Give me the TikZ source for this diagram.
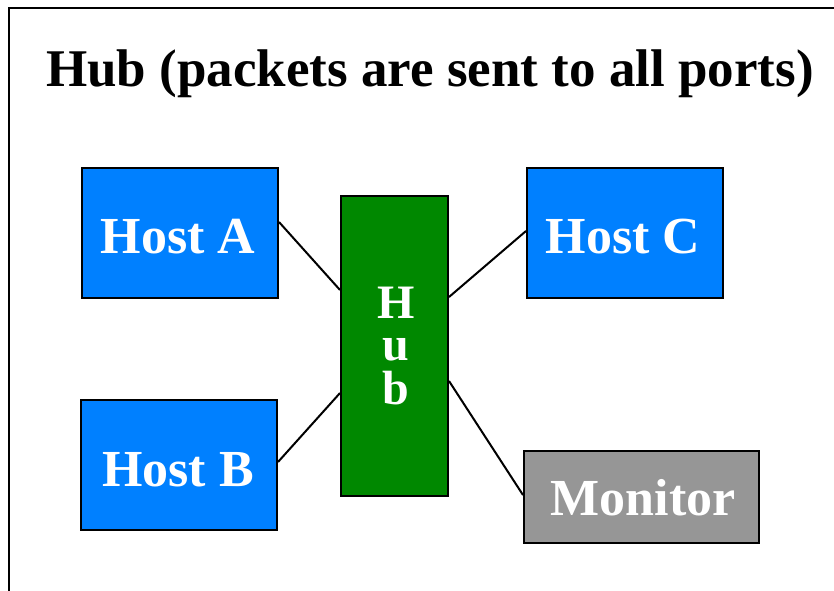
\documentclass[tikz,border=0pt]{standalone}
\usepackage{fontspec}
\setmainfont{Liberation Serif}
\definecolor{hostblue}{HTML}{0080FF}
\definecolor{hubgreen}{HTML}{008800}
\definecolor{mongray}{HTML}{969696}
\tikzset{
  box/.style={draw=black, line width=2pt, rectangle, inner sep=0pt},
  boxtext/.style={text=white, inner sep=0pt, font=\fontsize{52}{56}\selectfont\bfseries},
  hubletter/.style={text=white, inner sep=0pt, anchor=base, font=\fontsize{48}{43}\selectfont\bfseries},
  link/.style={draw=black, line width=2pt}
}
\begin{document}
\begin{tikzpicture}[x=1pt,y=-1pt]
\useasboundingbox (0,0) rectangle (834,590);
\clip (0,0) rectangle (834,590);
\draw[line width=2pt] (9,8) rectangle (860,620);
\node[font=\fontsize{53}{56}\selectfont\bfseries, anchor=base] (title) at (430,86) {Hub (packets are sent to all ports)};
\node[box, fill=hostblue, minimum width=196pt, minimum height=130pt] (A) at (180,233) {};
\node[box, fill=hostblue, minimum width=196pt, minimum height=130pt] (B) at (179,465) {};
\node[box, fill=hostblue, minimum width=196pt, minimum height=130pt] (C) at (625,233) {};
\node[box, fill=mongray, minimum width=235pt, minimum height=92pt] (M) at (641.5,497) {};
\node[box, fill=hubgreen, minimum width=107pt, minimum height=300pt] (H) at (394.5,346) {};
\node[boxtext, anchor=base] (At) at (178,253) {Host A};
\node[boxtext, anchor=base] (Bt) at (178,486) {Host B};
\node[boxtext, anchor=base] (Ct) at (623,253) {Host C};
\node[boxtext, anchor=base] (Mt) at (643,515) {Monitor};
\node[hubletter] (H1) at (396,318) {H};
\node[hubletter] (H2) at (396,360) {u};
\node[hubletter] (H3) at (396,404) {b};
\draw[link] (A.east |- 0,222) coordinate (a1) -- (H.west |- 0,290) coordinate (h1);
\draw[link] (B.east |- 0,462) coordinate (b1) -- (H.west |- 0,393) coordinate (h2);
\draw[link] (H.east |- 0,297) coordinate (h3) -- (C.west |- 0,231) coordinate (c1);
\draw[link] (H.east |- 0,381) coordinate (h4) -- (M.west |- 0,495) coordinate (m1);
\end{tikzpicture}
\end{document}
